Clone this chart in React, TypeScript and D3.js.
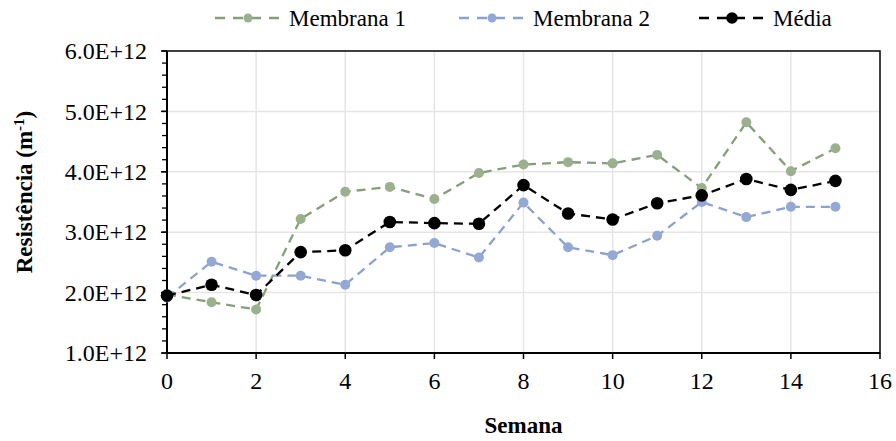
import React from "react";
import * as d3 from "d3";

const semanas = [0, 1, 2, 3, 4, 5, 6, 7, 8, 9, 10, 11, 12, 13, 14, 15];
const membrana1 = [1.97, 1.84, 1.72, 3.22, 3.67, 3.75, 3.55, 3.98, 4.12, 4.16, 4.14, 4.28, 3.73, 4.82, 4.01, 4.39];
const membrana2 = [1.92, 2.51, 2.28, 2.28, 2.13, 2.75, 2.82, 2.58, 3.49, 2.75, 2.62, 2.94, 3.5, 3.25, 3.42, 3.42];
const media = [1.95, 2.13, 1.96, 2.67, 2.7, 3.17, 3.15, 3.14, 3.78, 3.31, 3.21, 3.48, 3.61, 3.88, 3.7, 3.85];
const xTicks = [0, 2, 4, 6, 8, 10, 12, 14, 16];
const yTicks = [1, 2, 3, 4, 5, 6]; // x 1E+12

const width = 896;
const height = 441;
const margin = { top: 51, right: 16, bottom: 88, left: 167 };
const font = "'Liberation Serif', 'Times New Roman', serif";

const series = [
  { name: "Membrana 1", values: membrana1, line: "#869e7a", fill: "#9bb08f", r: 5, lx: 215 },
  { name: "Membrana 2", values: membrana2, line: "#8ba2cf", fill: "#93a9d3", r: 5, lx: 459 },
  { name: "Média", values: media, line: "#000000", fill: "#000000", r: 6.3, lx: 699 },
];

const App = () => {
  const x = d3.scaleLinear().domain([0, 16]).range([margin.left, width - margin.right]);
  const y = d3.scaleLinear().domain([1, 6]).range([height - margin.bottom, margin.top]);
  const minor = d3.range(1, 6.001, 0.2);

  const line = (vals: number[]) =>
    d3
      .line<number>()
      .x((_, i) => x(semanas[i]))
      .y((d) => y(d))(vals) as string;

  return (
    <svg width={width} height={height} style={{ position: "absolute", left: 0, top: 0 }}>
      <rect width={width} height={height} fill="#fff" />
      {/* grid */}
      {xTicks.slice(1, -1).map((t) => (
        <line key={"gx" + t} x1={x(t)} x2={x(t)} y1={y(6)} y2={y(1)} stroke="#e5e5e5" strokeWidth={1.5} />
      ))}
      {yTicks.slice(1, -1).map((t) => (
        <line key={"gy" + t} x1={x(0)} x2={x(16)} y1={y(t)} y2={y(t)} stroke="#e5e5e5" strokeWidth={1.5} />
      ))}
      {/* frame */}
      <rect x={x(0)} y={y(6)} width={x(16) - x(0)} height={y(1) - y(6)} fill="none" stroke="#000" strokeWidth={1.5} />
      <line x1={x(0)} x2={x(0)} y1={y(6)} y2={y(1)} stroke="#000" strokeWidth={2} />
      <line x1={x(0)} x2={x(16)} y1={y(1)} y2={y(1)} stroke="#000" strokeWidth={2} />
      {/* y ticks */}
      {minor.map((t, i) => (
        <line key={"my" + i} x1={x(0) - 5} x2={x(0)} y1={y(t)} y2={y(t)} stroke="#000" strokeWidth={1.3} />
      ))}
      {yTicks.map((t) => (
        <g key={"ty" + t}>
          <line x1={x(0) - 6} x2={x(0)} y1={y(t)} y2={y(t)} stroke="#000" strokeWidth={1.5} />
          <text x={x(0) - 20} y={y(t)} dy="0.34em" textAnchor="end" fontFamily={font} fontSize={24}>
            {t.toFixed(1) + "E+12"}
          </text>
        </g>
      ))}
      {/* x ticks */}
      {xTicks.map((t) => (
        <g key={"tx" + t}>
          <line x1={x(t)} x2={x(t)} y1={y(1)} y2={y(1) + 6} stroke="#000" strokeWidth={1.5} />
          <text x={x(t)} y={y(1) + 36} textAnchor="middle" fontFamily={font} fontSize={24}>
            {t}
          </text>
        </g>
      ))}
      {/* series */}
      {series.map((s) => (
        <g key={s.name}>
          <path d={line(s.values)} fill="none" stroke={s.line} strokeWidth={2.3} strokeDasharray="9,6" />
          {s.values.map((v, i) => (
            <circle key={i} cx={x(semanas[i])} cy={y(v)} r={s.r} fill={s.fill} />
          ))}
        </g>
      ))}
      {/* legend */}
      {series.map((s) => (
        <g key={"lg" + s.name}>
          <line x1={s.lx} x2={s.lx + 66} y1={18} y2={18} stroke={s.line} strokeWidth={2.3} strokeDasharray="10,8" />
          <circle cx={s.lx + 33} cy={18} r={s.r - 0.5} fill={s.fill} />
          <text x={s.lx + 74} y={26} fontFamily={font} fontSize={23}>
            {s.name}
          </text>
        </g>
      ))}
      {/* axis titles */}
      <text x={(x(0) + x(16)) / 2} y={433} textAnchor="middle" fontFamily={font} fontSize={23} fontWeight="bold">
        Semana
      </text>
      <text
        transform={`translate(24,${(y(1) + y(6)) / 2 - 10}) rotate(-90)`}
        textAnchor="middle"
        dy="0.35em"
        fontFamily={font}
        fontSize={23}
        fontWeight="bold"
      >
        Resistência (m<tspan dy="-8" fontSize={15}>-1</tspan>
        <tspan dy="8">)</tspan>
      </text>
    </svg>
  );
};

export default App;
